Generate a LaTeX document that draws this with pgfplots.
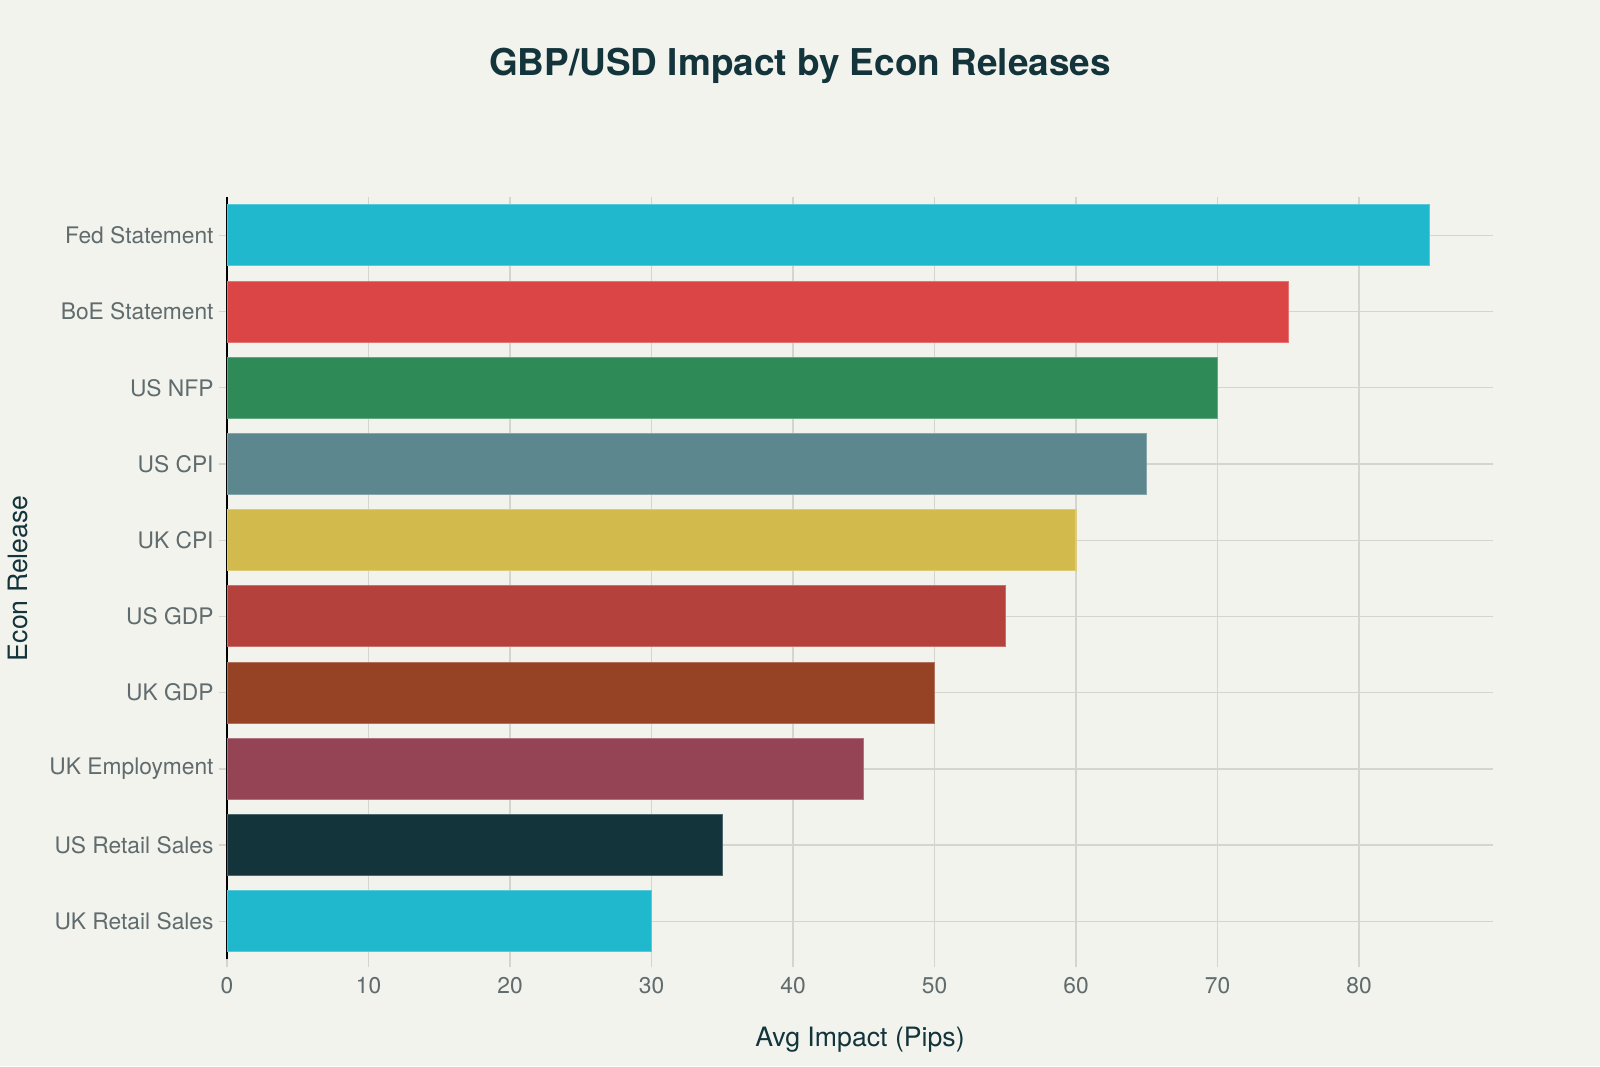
\documentclass[border=0pt]{standalone}
\usepackage{fontspec}
\setmainfont{TeX Gyre Heros}
\usepackage{pgfplots}
\pgfplotsset{compat=1.18}
\definecolor{bg}{HTML}{F3F3EE}
\definecolor{titlec}{HTML}{13343B}
\definecolor{tickc}{HTML}{5F6B6D}
\definecolor{gridc}{HTML}{D5D5D0}
\definecolor{c1}{HTML}{1FB8CD}
\definecolor{c2}{HTML}{DB4545}
\definecolor{c3}{HTML}{2E8B57}
\definecolor{c4}{HTML}{5D878F}
\definecolor{c5}{HTML}{D2BA4C}
\definecolor{c6}{HTML}{B4413C}
\definecolor{c7}{HTML}{964325}
\definecolor{c8}{HTML}{944454}
\definecolor{c9}{HTML}{13343B}
\begin{document}
\begin{tikzpicture}
\fill[bg] (0,0) rectangle (576pt,383.76pt);
\begin{axis}[
  at={(81.72pt,38.41pt)}, anchor=south west,
  scale only axis, width=455.76pt, height=274.32pt,
  xmin=0, xmax=89.47, ymin=-0.5, ymax=9.5,
  xbar, bar shift=0pt, bar width=0.8,
  axis x line*=bottom, axis y line*=left,
  x axis line style={draw=none},
  y axis line style={draw=black, line width=0.45pt, -},
  xtick={0,10,...,80},
  ytick={0,...,9},
  yticklabels={UK Retail Sales,US Retail Sales,UK Employment,UK GDP,US GDP,UK CPI,US CPI,US NFP,BoE Statement,Fed Statement},
  tick align=outside, major tick length=2.9pt,
  tick style={draw=gridc, line width=0.5pt},
  grid=major, major grid style={draw=gridc, line width=0.5pt},
  ticklabel style={font=\fontsize{8.2pt}{9.5pt}\selectfont, text=tickc},
  yticklabel style={xshift=1.6pt},
  /pgf/number format/assume math mode=true,
]
\addplot[fill=c1, draw=c1!75!white, line width=0.4pt] coordinates {(30,0)};
\addplot[fill=c9, draw=c9!75!white, line width=0.4pt] coordinates {(35,1)};
\addplot[fill=c8, draw=c8!75!white, line width=0.4pt] coordinates {(45,2)};
\addplot[fill=c7, draw=c7!75!white, line width=0.4pt] coordinates {(50,3)};
\addplot[fill=c6, draw=c6!75!white, line width=0.4pt] coordinates {(55,4)};
\addplot[fill=c5, draw=c5!75!white, line width=0.4pt] coordinates {(60,5)};
\addplot[fill=c4, draw=c4!75!white, line width=0.4pt] coordinates {(65,6)};
\addplot[fill=c3, draw=c3!75!white, line width=0.4pt] coordinates {(70,7)};
\addplot[fill=c2, draw=c2!75!white, line width=0.4pt] coordinates {(75,8)};
\addplot[fill=c1, draw=c1!75!white, line width=0.4pt] coordinates {(85,9)};
\end{axis}
\node[font=\bfseries\fontsize{13.3pt}{15pt}\selectfont, text=titlec] at (288pt,359.9pt) {GBP/USD Impact by Econ Releases};
\node[font=\fontsize{9.6pt}{11pt}\selectfont, text=titlec] at (309.6pt,9.6pt) {Avg Impact (Pips)};
\node[font=\fontsize{9.6pt}{11pt}\selectfont, text=titlec, rotate=90] at (6.4pt,175.6pt) {Econ Release};
\pgfresetboundingbox
\useasboundingbox (0,0) rectangle (576pt,383.76pt);
\end{tikzpicture}
\end{document}
